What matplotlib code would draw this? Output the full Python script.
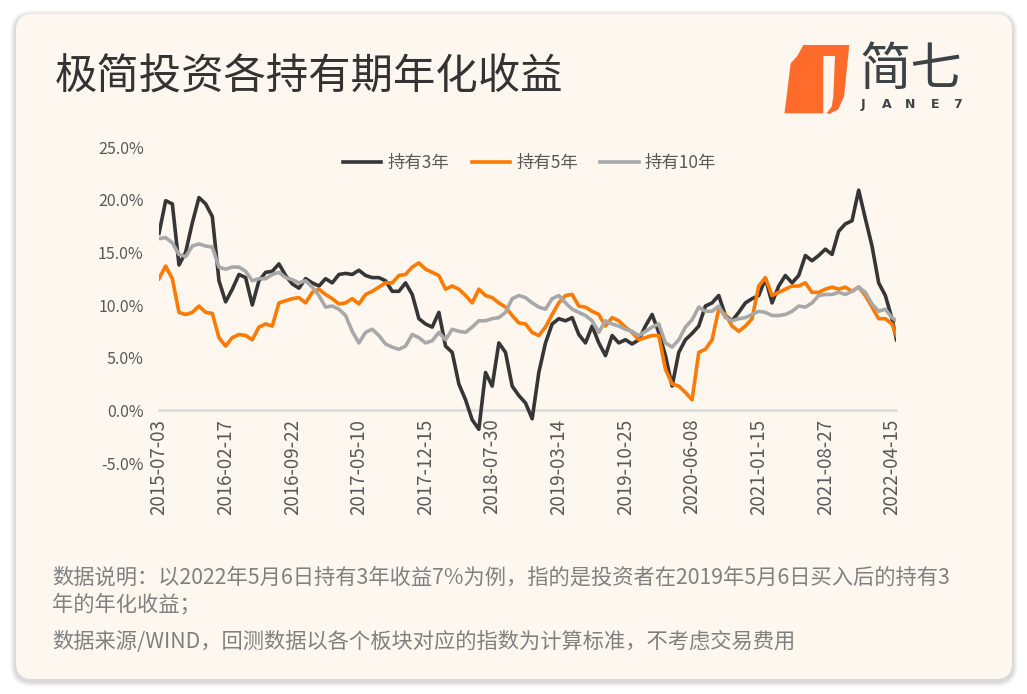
import numpy as np
import matplotlib
matplotlib.use("Agg")
import matplotlib.pyplot as plt
from matplotlib.patches import FancyBboxPatch, Polygon

plt.rcParams['font.family'] = ['Noto Sans CJK SC', 'DejaVu Sans']

# ---------------- data ----------------
tick_labels = ["2015-07-03", "2016-02-17", "2016-09-22", "2017-05-10", "2017-12-15",
               "2018-07-30", "2019-03-14", "2019-10-25", "2020-06-08", "2021-01-15",
               "2021-08-27", "2022-04-15"]
tick_step = 150          # trading days between tick labels
sample_step = 15         # trading days between sampled readings
last_day = 1660          # 2022-05-06

hold3 = [16.8, 19.9, 19.6, 13.8, 15.0, 17.8, 20.2, 19.6, 18.4, 12.3,
         10.3, 11.5, 12.9, 12.6, 10.0, 12.3, 13.1, 13.2, 13.9, 12.8,
         12.0, 11.6, 12.5, 12.1, 11.8, 12.5, 12.1, 12.9, 13.0, 12.9,
         13.3, 12.8, 12.6, 12.6, 12.3, 11.3, 11.3, 12.1, 11.0, 8.7,
         8.2, 7.9, 9.3, 6.1, 5.5, 2.5, 1.0, -0.9, -1.8, 3.6,
         2.3, 6.4, 5.5, 2.3, 1.4, 0.7, -0.8, 3.6, 6.4, 8.2,
         8.7, 8.5, 8.8, 7.2, 6.4, 8.0, 6.4, 5.2, 7.1, 6.4,
         6.7, 6.3, 6.7, 8.0, 9.1, 7.4, 5.2, 2.3, 5.5, 6.7,
         7.3, 8.0, 9.9, 10.2, 10.9, 9.0, 8.5, 9.3, 10.2, 10.6,
         10.9, 12.5, 10.2, 11.8, 12.8, 12.1, 12.8, 14.7, 14.2, 14.7,
         15.3, 14.8, 17.0, 17.7, 18.0, 20.9, 18.2, 15.6, 12.1, 10.9,
         8.7, 6.7]
hold5 = [12.5, 13.7, 12.5, 9.3, 9.1, 9.3, 9.9, 9.3, 9.2, 6.9,
         6.1, 6.9, 7.2, 7.1, 6.7, 7.9, 8.2, 8.0, 10.2, 10.4,
         10.6, 10.7, 10.2, 11.2, 11.5, 11.0, 10.6, 10.1, 10.2, 10.6,
         10.1, 11.0, 11.3, 11.7, 12.1, 12.1, 12.8, 12.9, 13.6, 14.0,
         13.4, 13.1, 12.8, 11.5, 11.8, 11.5, 10.9, 10.2, 11.5, 10.9,
         10.7, 10.2, 9.8, 9.0, 8.3, 8.2, 7.4, 7.1, 7.9, 9.1,
         10.2, 10.9, 11.0, 9.9, 9.8, 9.4, 9.1, 8.0, 8.8, 8.5,
         7.9, 7.4, 6.7, 6.9, 7.1, 7.1, 3.9, 2.5, 2.3, 1.7,
         1.0, 5.5, 5.8, 6.7, 9.6, 9.1, 8.0, 7.5, 8.0, 8.7,
         11.8, 12.6, 10.9, 11.2, 11.5, 11.8, 11.8, 12.1, 11.2, 11.2,
         11.5, 11.7, 11.5, 11.7, 11.3, 11.7, 10.9, 9.8, 8.7, 8.7,
         8.2, 7.1]
hold10 = [16.3, 16.4, 15.9, 14.8, 14.6, 15.6, 15.8, 15.6, 15.5, 13.6,
          13.4, 13.6, 13.6, 13.2, 12.3, 12.5, 12.5, 12.9, 13.1, 12.6,
          12.4, 12.1, 12.3, 11.7, 10.9, 9.8, 9.9, 9.6, 9.0, 7.5,
          6.4, 7.4, 7.7, 7.1, 6.3, 6.0, 5.8, 6.1, 7.2, 6.9,
          6.4, 6.6, 7.4, 6.7, 7.7, 7.5, 7.4, 7.9, 8.5, 8.5,
          8.7, 8.8, 9.3, 10.6, 10.9, 10.7, 10.2, 9.8, 9.6, 10.6,
          10.9, 10.2, 9.6, 9.3, 9.0, 8.5, 7.4, 8.5, 8.2, 8.0,
          7.7, 7.5, 7.1, 7.5, 7.9, 8.2, 6.4, 6.0, 6.7, 7.9,
          8.6, 9.8, 9.4, 9.4, 9.9, 8.8, 8.5, 8.7, 8.8, 9.1,
          9.4, 9.3, 9.0, 9.0, 9.1, 9.4, 9.9, 9.8, 10.2, 10.9,
          11.0, 11.0, 11.2, 11.0, 11.3, 11.7, 11.2, 10.1, 9.4, 9.6,
          8.8, 8.5]
series_names = ["持有3年", "持有5年", "持有10年"]
series_colors = ["#363636", "#FF7A00", "#A8A8A8"]

days = np.append(np.arange(0, last_day - 9, sample_step), last_day)
tick_days = np.arange(len(tick_labels)) * tick_step

# ---------------- figure ----------------
W, H = 1027, 694
fig = plt.figure(figsize=(W / 100, H / 100), dpi=100)
fig.patch.set_facecolor("white")

bg = fig.add_axes([0, 0, 1, 1], zorder=-5)
bg.set_xlim(0, W)
bg.set_ylim(H, 0)
bg.axis("off")

# card shadow
for i, a in enumerate([0.018, 0.022, 0.028, 0.035, 0.045]):
    g = 6 - i
    bg.add_patch(FancyBboxPatch((16 - g, 14 - g + 2), 996 + 2 * g, 665 + 2 * g,
                                boxstyle="round,pad=0,rounding_size=%d" % (16 + g),
                                fc="#000000", ec="none", alpha=a))
bg.add_patch(FancyBboxPatch((16, 14), 996, 665, boxstyle="round,pad=0,rounding_size=16",
                            fc="#FDF7F0", ec="none"))

# title
bg.text(55, 77, "极简投资各持有期年化收益", fontsize=30.5, color="#333333",
        va="center", ha="left", fontweight="light")

# logo
orange = "#FF6B2B"
bg.add_patch(Polygon([(803.3, 45), (849.3, 45), (844, 96.7), (838.3, 109.3), (829.3, 114),
                      (826.5, 113.3), (831.7, 106.7), (833.3, 96.7), (835, 56), (797.3, 56)],
                     closed=True, fc=orange, ec="none"))
bg.add_patch(Polygon([(797.3, 56), (823.3, 56), (823.3, 113.3), (784.5, 113.3), (790.7, 63.3)],
                     closed=True, fc=orange, ec="none"))
bg.text(910.5, 70, "简七", fontsize=37, color="#3D4246", ha="center", va="center",
        fontweight="light")
for ch, xx in zip("JANE7", [863, 887, 910.5, 935, 957.5]):
    bg.text(xx, 104, ch, fontsize=9, color="#3D4246", ha="center", va="center",
            family="DejaVu Sans", fontweight="bold")

# footer
foot_c = "#808080"
bg.text(52, 578, "数据说明：以2022年5月6日持有3年收益7%为例，指的是投资者在2019年5月6日买入后的持有3",
        fontsize=15.3, color=foot_c, va="center", ha="left", fontweight="light")
bg.text(52, 604, "年的年化收益；", fontsize=15.3, color=foot_c, va="center", ha="left",
        fontweight="light")
bg.text(52, 642, "数据来源/WIND，回测数据以各个板块对应的指数为计算标准，不考虑交易费用",
        fontsize=15.3, color=foot_c, va="center", ha="left", fontweight="light")

# ---------------- chart ----------------
left, right, top, bottom = 159, 896, 147, 463
ax = fig.add_axes([left / W, 1 - bottom / H, (right - left) / W, (bottom - top) / H])
ax.set_facecolor("none")

for vals, name, col in zip([hold3, hold5, hold10], series_names, series_colors):
    ax.plot(days, vals, color=col, lw=2.6, label=name, solid_joinstyle="round")

ax.set_xlim(0, last_day - 1)
ax.set_ylim(-5, 25)
ax.set_yticks(np.arange(-5, 26, 5))
ax.set_yticklabels(["%.1f%%" % v for v in np.arange(-5, 26, 5)])
ax.set_xticks(tick_days)
ax.set_xticklabels(tick_labels)
ax.tick_params(axis="both", length=0)
ax.tick_params(axis="y", pad=11, labelsize=11.5, labelcolor="#595959")
ax.tick_params(axis="x", pad=6, labelsize=13.5, labelcolor="#595959", labelrotation=90)
for t in ax.get_xticklabels():
    t.set_family(["Liberation Sans", "DejaVu Sans"])
    t.set_rotation(90)
    t.set_va("top")
    t.set_ha("center")
for s in ["left", "right", "top"]:
    ax.spines[s].set_visible(False)
ax.spines["bottom"].set_position(("data", 0))
ax.spines["bottom"].set_color("#D9D9D9")
ax.spines["bottom"].set_linewidth(1.8)
ax.spines["bottom"].set_zorder(0.5)

leg = ax.legend(loc="center", bbox_to_anchor=(0.503, 0.949), ncol=3, frameon=False,
                fontsize=12.5, handlelength=2.2, handletextpad=0.35, columnspacing=1.3)
for t in leg.get_texts():
    t.set_color("#595959")
for h in leg.get_lines():
    h.set_linewidth(2.6)

fig.savefig("out.png", dpi=100, facecolor="white")
